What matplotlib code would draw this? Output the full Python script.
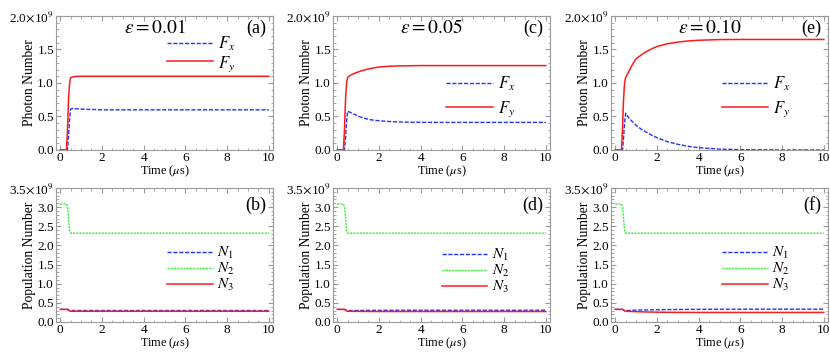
import numpy as np
import matplotlib
matplotlib.use("Agg")
import matplotlib.pyplot as plt
from matplotlib.ticker import MultipleLocator, FuncFormatter

plt.rcParams.update({
    "font.family": "serif",
    "font.serif": ["Liberation Serif", "DejaVu Serif"],
    "mathtext.fontset": "stix",
    "font.size": 9,
})

# time grid (us) shared by all curves
t = [0, 0.3, 0.35, 0.4, 0.45, 0.5, 0.6, 0.8, 1.0, 1.25, 1.5, 1.75, 2.0,
     2.5, 3.0, 3.5, 4.0, 5.0, 6.0, 7.0, 8.0, 9.0, 10.0]

# photon numbers (x 1e9)
fx_a = [0, 0, 0, 0.20, 0.45, 0.61, 0.62, 0.615, 0.61, 0.607, 0.605, 0.603, 0.60,
        0.60, 0.60, 0.60, 0.60, 0.60, 0.60, 0.60, 0.60, 0.60, 0.60]
fy_a = [0, 0, 0.30, 0.75, 1.00, 1.08, 1.09, 1.10, 1.10, 1.10, 1.10, 1.10, 1.10,
        1.10, 1.10, 1.10, 1.10, 1.10, 1.10, 1.10, 1.10, 1.10, 1.10]
fx_c = [0, 0, 0, 0.18, 0.42, 0.58, 0.565, 0.535, 0.506, 0.478, 0.457, 0.445, 0.437,
        0.425, 0.418, 0.415, 0.413, 0.412, 0.412, 0.412, 0.412, 0.412, 0.412]
fy_c = [0, 0, 0.30, 0.75, 1.00, 1.08, 1.11, 1.14, 1.165, 1.19, 1.21, 1.225, 1.238,
        1.25, 1.255, 1.258, 1.26, 1.26, 1.26, 1.26, 1.26, 1.26, 1.26]
fx_e = [0, 0, 0, 0.17, 0.40, 0.55, 0.50, 0.43, 0.37, 0.31, 0.265, 0.22, 0.185,
        0.125, 0.085, 0.055, 0.035, 0.013, 0.005, 0.002, 0, 0, 0]
fy_e = [0, 0, 0.30, 0.75, 1.00, 1.08, 1.14, 1.26, 1.36, 1.42, 1.47, 1.51, 1.545,
        1.585, 1.61, 1.628, 1.638, 1.648, 1.65, 1.65, 1.65, 1.65, 1.65]

# populations (x 1e9)
n2_all = [3.08, 3.08, 3.02, 2.70, 2.40, 2.32, 2.32, 2.32, 2.32, 2.32, 2.32, 2.32, 2.32,
          2.32, 2.32, 2.32, 2.32, 2.32, 2.32, 2.32, 2.32, 2.32, 2.32]
n1_b = [0.33, 0.33, 0.33, 0.32, 0.30, 0.30, 0.30, 0.30, 0.30, 0.30, 0.30, 0.30, 0.30,
        0.30, 0.30, 0.30, 0.30, 0.30, 0.30, 0.30, 0.30, 0.30, 0.30]
n3_b = [0.33, 0.33, 0.33, 0.31, 0.29, 0.28, 0.28, 0.28, 0.28, 0.28, 0.28, 0.28, 0.28,
        0.28, 0.28, 0.28, 0.28, 0.28, 0.28, 0.28, 0.28, 0.28, 0.28]
n1_d = [0.33, 0.33, 0.33, 0.32, 0.30, 0.30, 0.30, 0.30, 0.301, 0.302, 0.303, 0.304, 0.305,
        0.306, 0.307, 0.307, 0.307, 0.307, 0.307, 0.307, 0.307, 0.307, 0.307]
n3_d = [0.33, 0.33, 0.33, 0.31, 0.29, 0.28, 0.28, 0.279, 0.278, 0.277, 0.276, 0.275, 0.275,
        0.274, 0.274, 0.274, 0.274, 0.274, 0.274, 0.274, 0.274, 0.274, 0.274]
n1_f = [0.33, 0.33, 0.33, 0.32, 0.30, 0.30, 0.30, 0.305, 0.31, 0.313, 0.316, 0.318, 0.32,
        0.324, 0.327, 0.329, 0.331, 0.333, 0.334, 0.335, 0.335, 0.335, 0.335]
n3_f = [0.33, 0.33, 0.33, 0.31, 0.29, 0.28, 0.278, 0.274, 0.27, 0.266, 0.262, 0.26, 0.257,
        0.254, 0.252, 0.251, 0.25, 0.25, 0.25, 0.25, 0.25, 0.25, 0.25]

eps_labels = [r"$\varepsilon = 0.01$", r"$\varepsilon = 0.05$", r"$\varepsilon = 0.10$"]
top_tags = ["(a)", "(c)", "(e)"]
bot_tags = ["(b)", "(d)", "(f)"]
photon = [(fx_a, fy_a), (fx_c, fy_c), (fx_e, fy_e)]
popul = [(n1_b, n3_b), (n1_d, n3_d), (n1_f, n3_f)]

BLUE, RED, GREEN = "#2233ff", "#ff1a1a", "#33ee33"
FRAME = "#9a9a9a"

lefts = [56 / 830, 333 / 830, 611 / 830]
W, H = 217 / 830, 134 / 353
top_bottom, bot_bottom = 1 - 150 / 353, 1 - 322 / 353
leg_top = [(0.51, 0.86), (0.52, 0.56), (0.51, 0.56)]
leg_top_sp = [0.05, 0.35, 0.35]
leg_bot = [(0.51, 0.575), (0.50, 0.56), (0.51, 0.575)]


def style(ax, ymax, ystep, yminor):
    ax.set_xlim(-0.2, 10.2)
    ax.set_ylim(0, ymax)
    for s in ax.spines.values():
        s.set_color(FRAME)
        s.set_linewidth(0.8)
    ax.xaxis.set_major_locator(MultipleLocator(2))
    ax.xaxis.set_minor_locator(MultipleLocator(0.5))
    ax.yaxis.set_major_locator(MultipleLocator(ystep))
    ax.yaxis.set_minor_locator(MultipleLocator(yminor))
    ax.tick_params(which="both", direction="in", top=True, right=True,
                   color=FRAME, labelsize=9.5, pad=1.5)
    ax.tick_params(which="major", length=3.5)
    ax.tick_params(which="minor", length=1.8)
    ax.xaxis.set_major_formatter(FuncFormatter(lambda v, p: f"{v:g}"))
    ax.yaxis.set_major_formatter(FuncFormatter(
        lambda v, p: (f"{v:.1f}" + r"$\times$10$^9$") if abs(v - ymax) < 1e-6 else f"{v:.1f}"))
    ax.set_xlabel(r"Time ($\mu$s)", fontsize=8.8, labelpad=0)
    ax.yaxis.set_label_coords(-0.093, 0.5)


fig = plt.figure(figsize=(8.3, 3.53), dpi=100)

for i in range(3):
    ax = fig.add_axes([lefts[i], top_bottom, W, H])
    fx, fy = photon[i]
    lx, = ax.plot(t, fx, color=BLUE, lw=1.0, dashes=(3, 1.2), label=r"$F_x$")
    ly, = ax.plot(t, fy, color=RED, lw=1.1, label=r"$F_y$")
    style(ax, 2.0, 0.5, 0.1)
    ax.set_ylabel("Photon Number", fontsize=9.8)
    ax.text(0.455, 0.91, eps_labels[i], transform=ax.transAxes, ha="center", va="center",
            fontsize=14)
    ax.text(0.97, 0.91, top_tags[i], transform=ax.transAxes, ha="right", va="center",
            fontsize=13)
    ax.legend(handles=[lx, ly], loc="upper left", bbox_to_anchor=leg_top[i], frameon=False,
              fontsize=12, handlelength=2.8, handletextpad=0.3, labelspacing=leg_top_sp[i],
              borderpad=0, borderaxespad=0)

for i in range(3):
    ax = fig.add_axes([lefts[i], bot_bottom, W, H])
    n1, n3 = popul[i]
    l1, = ax.plot(t, n1, color=BLUE, lw=1.0, dashes=(3, 1.2), label=r"$N_1$")
    l2, = ax.plot(t, n2_all, color=GREEN, lw=1.0, dashes=(1.5, 0.8), label=r"$N_2$")
    l3, = ax.plot(t, n3, color=RED, lw=1.1, label=r"$N_3$")
    style(ax, 3.5, 0.5, 0.1)
    ax.set_ylabel("Population Number", fontsize=9.8)
    ax.text(0.97, 0.87, bot_tags[i], transform=ax.transAxes, ha="right", va="center",
            fontsize=13)
    ax.legend(handles=[l1, l2, l3], loc="upper left", bbox_to_anchor=leg_bot[i], frameon=False,
              fontsize=11, handlelength=3.0, handletextpad=0.3, labelspacing=0.0,
              borderpad=0, borderaxespad=0)

fig.savefig("out.png", dpi=100)
